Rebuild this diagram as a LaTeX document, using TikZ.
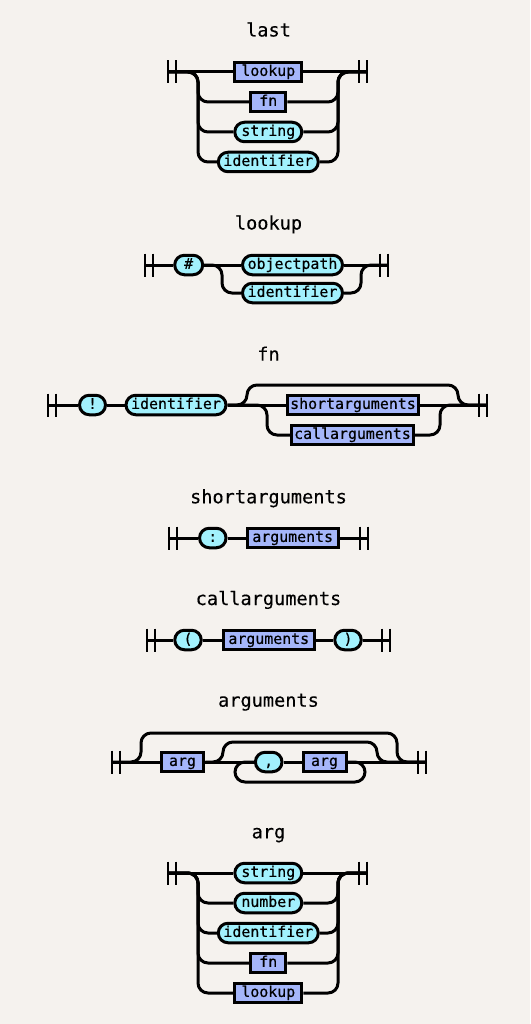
\documentclass[tikz,border=0pt]{standalone}
\usepackage{fontspec}
\setmonofont{DejaVu Sans Mono}
\newfontfamily\rrmonoA{DejaVu Sans Mono}[UprightFeatures={FakeBold=0.5}]
\newfontfamily\rrmonoB{DejaVu Sans Mono}[UprightFeatures={FakeBold=0.3}]
\definecolor{bgc}{HTML}{F5F2EE}
\definecolor{termc}{HTML}{A2F1FD}
\definecolor{ntc}{HTML}{A5B6FA}
\newcommand\rrboxfont{\rrmonoA\fontsize{14.9}{16}\selectfont}
\newcommand\rrttlfont{\rrmonoB\fontsize{18.6}{20}\selectfont}
\newcommand\rrbars[3]{\draw[barline] (#1,#3-11.5) -- (#1,#3+11.5) (#2,#3-11.5) -- (#2,#3+11.5);}
\tikzset{
  rail/.style={line width=3pt, rounded corners=10pt},
  barline/.style={line width=2.9pt},
  term/.style={draw, line width=3pt, fill=termc, rounded corners=9.7pt, minimum height=19.5pt,
    inner sep=0pt, text height=10.8pt, text depth=3pt, font=\rrboxfont},
  nonterm/.style={draw, line width=3pt, fill=ntc, minimum height=19.5pt,
    inner sep=0pt, text height=10.8pt, text depth=3pt, font=\rrboxfont},
  ttl/.style={anchor=base, font=\rrttlfont, inner sep=0pt}
}
\begin{document}
\begin{tikzpicture}[x=1pt,y=-1pt]
\fill[bgc] (0,0) rectangle (530,1024);
\useasboundingbox (0,0) rectangle (530,1024);

% ---------------- last ----------------
\node[ttl] (tlast) at (268.5,36.5) {last};
\rrbars{168}{176}{72}\rrbars{359}{367}{72}
\coordinate (lastS) at (168,72);
\coordinate (lastE) at (367,72);
\node[nonterm, minimum width=67pt] (last1) at (268.3,72) {lookup};
\node[nonterm, minimum width=35pt] (last2) at (268.3,102) {fn};
\node[term, minimum width=67pt] (last3) at (268.3,132) {string};
\node[term, minimum width=100pt] (last4) at (268.3,162) {identifier};
\draw[rail] (lastS) -- (last1.west);
\draw[rail] (last1.east) -- (lastE);
\foreach \n/\yy in {2/102,3/132,4/162}{
  \draw[rail] (lastS) -- (198,72) -- (198,\yy) -- (last\n.west);
  \draw[rail] (last\n.east) -- (338,\yy) -- (338,72) -- (lastE);
}

% ---------------- lookup ----------------
\node[ttl] (tlookup) at (268.5,229.5) {lookup};
\rrbars{145}{153}{265}\rrbars{380}{388}{265}
\coordinate (lkS) at (145,265);
\coordinate (lkE) at (388,265);
\node[term, minimum width=28pt] (lk1) at (188.7,265) {\#};
\node[term, minimum width=100pt] (lk2) at (292.5,265) {objectpath};
\node[term, minimum width=100pt] (lk3) at (292.5,293) {identifier};
\draw[rail] (lkS) -- (lk1.west);
\draw[rail] (lk1.east) -- (lk2.west);
\draw[rail] (lk2.east) -- (lkE);
\draw[rail] (lk1.east) -- (222,265) -- (222,293) -- (lk3.west);
\draw[rail] (lk3.east) -- (361,293) -- (361,265) -- (lkE);

% ---------------- fn ----------------
\node[ttl] (tfn) at (268.5,360.7) {fn};
\rrbars{48}{56}{405}\rrbars{479}{487}{405}
\coordinate (fnS) at (48,405);
\coordinate (fnE) at (487,405);
\node[term, minimum width=26pt] (fn1) at (92.5,405) {!};
\node[term, minimum width=100pt] (fn2) at (176,405) {identifier};
\node[nonterm, minimum width=131pt] (fn3) at (353,405) {shortarguments};
\node[nonterm, minimum width=122pt] (fn4) at (352.5,435) {callarguments};
\draw[rail] (fnS) -- (fn1.west);
\draw[rail] (fn1.east) -- (fn2.west);
\draw[rail] (fn2.east) -- (fn3.west);
\draw[rail] (fn3.east) -- (fnE);
\draw[rail] (fn2.east) -- (247,405) -- (247,385) -- (458,385) -- (458,405) -- (fnE);
\draw[rail] (fn2.east) -- (267,405) -- (267,435) -- (fn4.west);
\draw[rail] (fn4.east) -- (440,435) -- (440,405) -- (fnE);

% ---------------- shortarguments ----------------
\node[ttl] (tshort) at (268.5,503.3) {shortarguments};
\rrbars{169}{177}{538}\rrbars{360}{368}{538}
\coordinate (saS) at (169,538);
\coordinate (saE) at (368,538);
\node[term, minimum width=26.5pt] (sa1) at (212.8,538) {:};
\node[nonterm, minimum width=91pt] (sa2) at (292.7,538) {arguments};
\draw[rail] (saS) -- (sa1.west);
\draw[rail] (sa1.east) -- (sa2.west);
\draw[rail] (sa2.east) -- (saE);

% ---------------- callarguments ----------------
\node[ttl] (tcall) at (268.5,605) {callarguments};
\rrbars{147}{155}{640}\rrbars{382}{390}{640}
\coordinate (caS) at (147,640);
\coordinate (caE) at (390,640);
\node[term, minimum width=26.5pt] (ca1) at (188,640) {(};
\node[nonterm, minimum width=91pt] (ca2) at (268.8,640) {arguments};
\node[term, minimum width=26.5pt] (ca3) at (348,640) {)};
\draw[rail] (caS) -- (ca1.west);
\draw[rail] (ca1.east) -- (ca2.west);
\draw[rail] (ca2.east) -- (ca3.west);
\draw[rail] (ca3.east) -- (caE);

% ---------------- arguments ----------------
\node[ttl] (targs) at (268.5,706.7) {arguments};
\rrbars{112}{120}{762}\rrbars{418}{426}{762}
\coordinate (agS) at (112,762);
\coordinate (agE) at (426,762);
\node[nonterm, minimum width=42.5pt] (ag1) at (182.5,762) {arg};
\node[term, minimum width=26.6pt] (ag2) at (268.7,762) {,};
\node[nonterm, minimum width=43pt] (ag3) at (324.5,762) {arg};
\draw[rail] (agS) -- (ag1.west);
\draw[rail] (ag1.east) -- (ag2.west);
\draw[rail] (ag2.east) -- (ag3.west);
\draw[rail] (ag3.east) -- (agE);
\draw[rail] (agS) -- (141,762) -- (141,733) -- (397,733) -- (397,762) -- (agE);
\draw[rail] (ag1.east) -- (223,762) -- (223,742) -- (377,742) -- (377,762) -- (agE);
\draw[rail] (ag3.east) -- (365,762) -- (365,782) -- (235,782) -- (235,762) -- (ag2.west);

% ---------------- arg ----------------
\node[ttl] (targ) at (268.5,838.3) {arg};
\rrbars{168}{176}{873}\rrbars{359}{367}{873}
\coordinate (arS) at (168,873);
\coordinate (arE) at (367,873);
\node[term, minimum width=67pt] (ar1) at (268.3,873) {string};
\node[term, minimum width=67pt] (ar2) at (268.3,903) {number};
\node[term, minimum width=100pt] (ar3) at (268.3,933) {identifier};
\node[nonterm, minimum width=35pt] (ar4) at (268.3,963) {fn};
\node[nonterm, minimum width=67pt] (ar5) at (268.3,993) {lookup};
\draw[rail] (arS) -- (ar1.west);
\draw[rail] (ar1.east) -- (arE);
\foreach \n/\yy in {2/903,3/933,4/963,5/993}{
  \draw[rail] (arS) -- (198,873) -- (198,\yy) -- (ar\n.west);
  \draw[rail] (ar\n.east) -- (338,\yy) -- (338,873) -- (arE);
}
\end{tikzpicture}
\end{document}
